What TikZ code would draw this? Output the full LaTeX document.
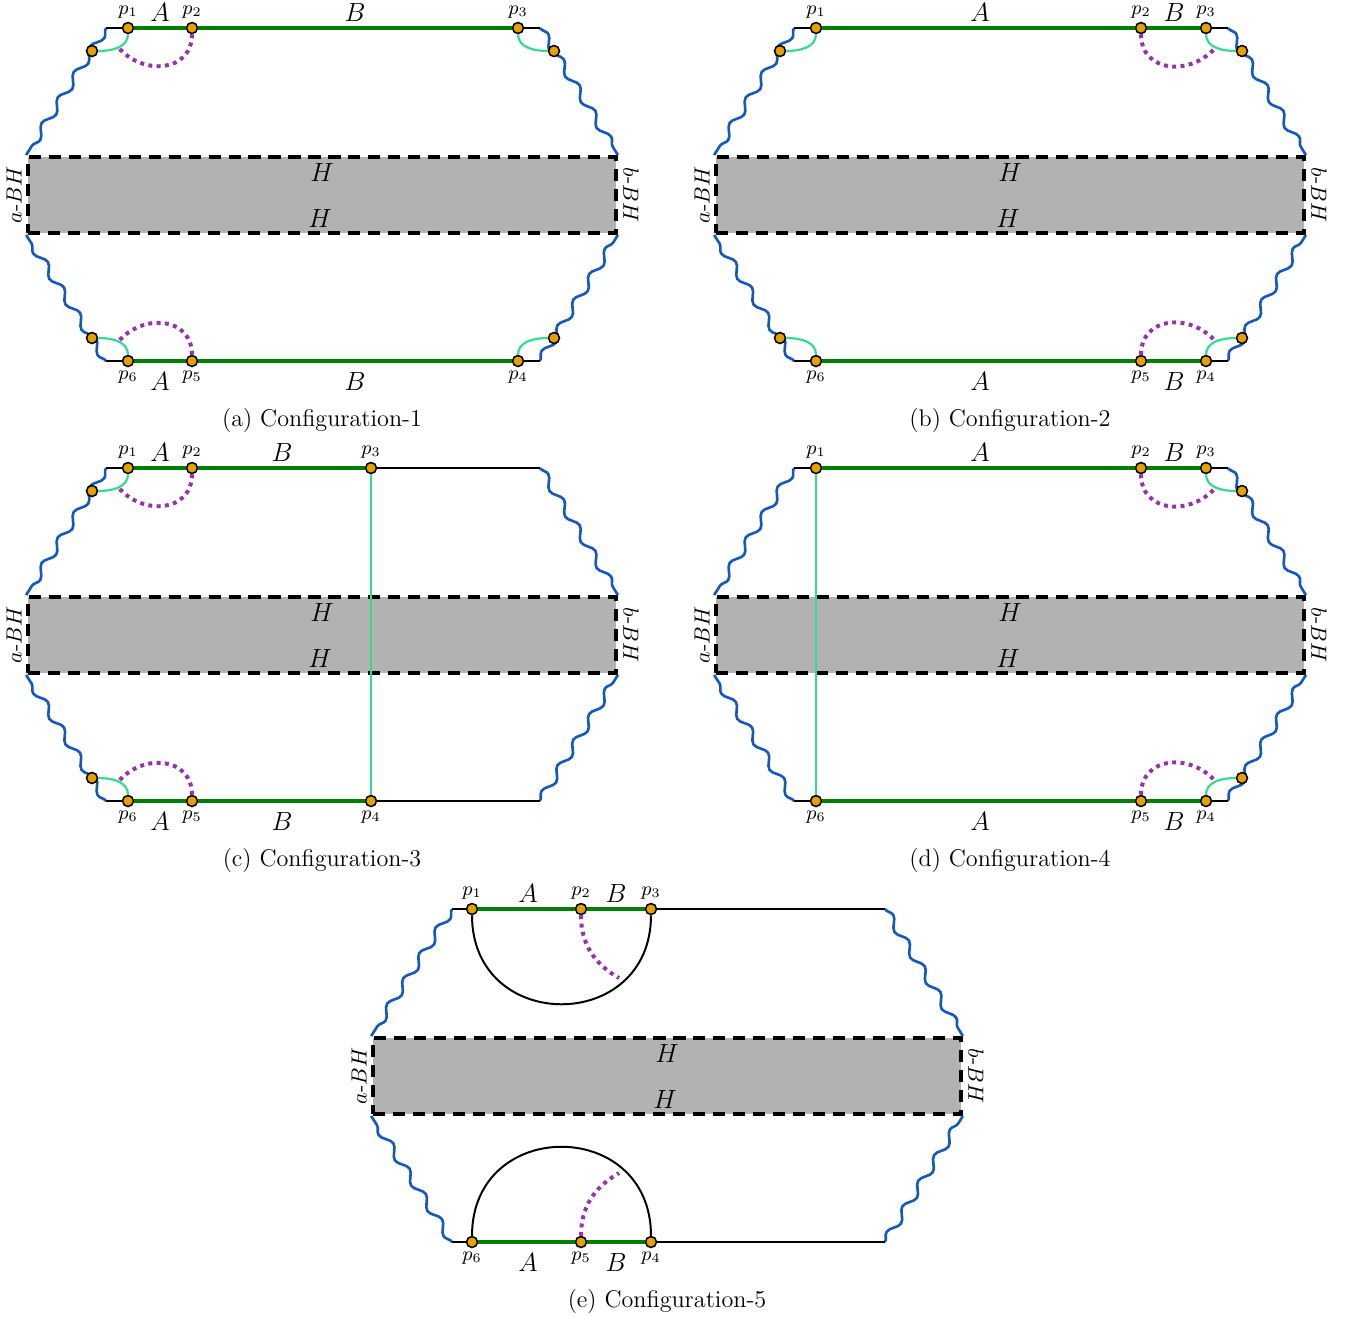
\documentclass[tikz,border=0pt]{standalone}
\usepackage{tikz}
\usetikzlibrary{positioning,decorations.pathmorphing}

\definecolor{dotorange}{RGB}{230,160,0}
\definecolor{wavyblue}{RGB}{20,90,190}
\definecolor{rtgreen}{RGB}{50,220,140}
\definecolor{islandpurple}{RGB}{150,50,170}
\definecolor{regiongreen}{RGB}{0,128,0}

\begin{document}
\begin{tikzpicture}[x=0.016cm,y=0.016cm,
  dot/.style={circle,draw,fill=dotorange,line width=0.7pt,inner sep=0pt,minimum size=5pt},
  plbl/.style={inner sep=1.5pt,font=\small},
  ablbl/.style={font=\large},
  wavy/.style={wavyblue,line width=1.2pt,decorate,decoration={snake,segment length=13.7pt,amplitude=1.8pt}},
  bh/.style={draw,fill=black!30,line width=1.8pt,dash pattern=on 5.5pt off 3.6pt,minimum width=9.408cm,minimum height=1.216cm,inner sep=0pt},
  region/.style={regiongreen,line width=2pt},
  bdry/.style={black,line width=0.9pt},
  ent/.style={rtgreen,line width=1pt},
  purp/.style={islandpurple,line width=1.8pt,dotted},
  capt/.style={font=\fontsize{11}{13}\selectfont}]

  \useasboundingbox (0,28) rectangle (1346,-1288);

  % (a) Configuration-1
  \begin{scope}
    \node[bh] (a-bh) at (322,-167) {};
    \node[rotate=90] at (14,-167) {$a$-$BH$};
    \node[rotate=-90] at (631,-167) {$b$-$BH$};
    \node[ablbl] at (322,-144) {$H$};
    \node[ablbl] at (320,-190) {$H$};
    \coordinate (a-w1) at (106,0);
    \coordinate (a-w2) at (540,0);
    \coordinate (a-w3) at (106,-333);
    \coordinate (a-w4) at (540,-333);
    \draw[wavy] (a-w1) -- (a-bh.north west);
    \draw[wavy] (a-w2) -- (a-bh.north east);
    \draw[wavy] (a-w3) -- (a-bh.south west);
    \draw[wavy] (a-w4) -- (a-bh.south east);
    \node[dot,label={[plbl]above:$p_1$}] (a-p1) at (128,0) {};
    \node[dot,label={[plbl]above:$p_2$}] (a-p2) at (192,0) {};
    \node[dot,label={[plbl]above:$p_3$}] (a-p3) at (518,0) {};
    \node[dot,label={[plbl]below:$p_6$}] (a-p6) at (128,-333) {};
    \node[dot,label={[plbl]below:$p_5$}] (a-p5) at (192,-333) {};
    \node[dot,label={[plbl]below:$p_4$}] (a-p4) at (518,-333) {};
    \node[dot] (a-q1) at (92,-23) {};
    \node[dot] (a-q2) at (554,-23) {};
    \node[dot] (a-q3) at (92,-310) {};
    \node[dot] (a-q4) at (554,-310) {};
    \coordinate (a-m1) at (118,-19);
    \coordinate (a-m2) at (118,-314);
    \draw[bdry] (a-w1) -- (a-p1);
    \draw[bdry] (a-p3) -- (a-w2);
    \draw[bdry] (a-w3) -- (a-p6);
    \draw[bdry] (a-p4) -- (a-w4);
    \draw[region] (a-p1) -- (a-p2);
    \draw[region] (a-p2) -- (a-p3);
    \draw[region] (a-p6) -- (a-p5);
    \draw[region] (a-p5) -- (a-p4);
    \draw[ent] (a-p1) to[out=-90,in=0] (a-q1);
    \draw[ent] (a-p3) to[out=-90,in=180] (a-q2);
    \draw[ent] (a-p6) to[out=90,in=0] (a-q3);
    \draw[ent] (a-p4) to[out=90,in=180] (a-q4);
    \draw[purp] (a-p2) to[out=-90,in=-50,looseness=1.3] (a-m1);
    \draw[purp] (a-p5) to[out=90,in=50,looseness=1.3] (a-m2);
    \node[ablbl] at (160,16) {$A$};
    \node[ablbl] at (355,16) {$B$};
    \node[ablbl] at (160,-353) {$A$};
    \node[ablbl] at (355,-353) {$B$};
    \node[capt] at (322,-392) {(a) Configuration-1};
  \end{scope}

  % (b) Configuration-2
  \begin{scope}[shift={(688,0)}]
    \node[bh] (b-bh) at (322,-167) {};
    \node[rotate=90] at (14,-167) {$a$-$BH$};
    \node[rotate=-90] at (631,-167) {$b$-$BH$};
    \node[ablbl] at (322,-144) {$H$};
    \node[ablbl] at (320,-190) {$H$};
    \coordinate (b-w1) at (106,0);
    \coordinate (b-w2) at (540,0);
    \coordinate (b-w3) at (106,-333);
    \coordinate (b-w4) at (540,-333);
    \draw[wavy] (b-w1) -- (b-bh.north west);
    \draw[wavy] (b-w2) -- (b-bh.north east);
    \draw[wavy] (b-w3) -- (b-bh.south west);
    \draw[wavy] (b-w4) -- (b-bh.south east);
    \node[dot,label={[plbl]above:$p_1$}] (b-p1) at (128,0) {};
    \node[dot,label={[plbl]above:$p_2$}] (b-p2) at (453,0) {};
    \node[dot,label={[plbl]above:$p_3$}] (b-p3) at (518,0) {};
    \node[dot,label={[plbl]below:$p_6$}] (b-p6) at (128,-333) {};
    \node[dot,label={[plbl]below:$p_5$}] (b-p5) at (453,-333) {};
    \node[dot,label={[plbl]below:$p_4$}] (b-p4) at (518,-333) {};
    \node[dot] (b-q1) at (92,-23) {};
    \node[dot] (b-q2) at (554,-23) {};
    \node[dot] (b-q3) at (92,-310) {};
    \node[dot] (b-q4) at (554,-310) {};
    \coordinate (b-m1) at (528,-19);
    \coordinate (b-m2) at (528,-314);
    \draw[bdry] (b-w1) -- (b-p1);
    \draw[bdry] (b-p3) -- (b-w2);
    \draw[bdry] (b-w3) -- (b-p6);
    \draw[bdry] (b-p4) -- (b-w4);
    \draw[region] (b-p1) -- (b-p2);
    \draw[region] (b-p2) -- (b-p3);
    \draw[region] (b-p6) -- (b-p5);
    \draw[region] (b-p5) -- (b-p4);
    \draw[ent] (b-p1) to[out=-90,in=0] (b-q1);
    \draw[ent] (b-p3) to[out=-90,in=180] (b-q2);
    \draw[ent] (b-p6) to[out=90,in=0] (b-q3);
    \draw[ent] (b-p4) to[out=90,in=180] (b-q4);
    \draw[purp] (b-p2) to[out=-90,in=-130,looseness=1.3] (b-m1);
    \draw[purp] (b-p5) to[out=90,in=130,looseness=1.3] (b-m2);
    \node[ablbl] at (292,16) {$A$};
    \node[ablbl] at (486,16) {$B$};
    \node[ablbl] at (292,-353) {$A$};
    \node[ablbl] at (486,-353) {$B$};
    \node[capt] at (322,-392) {(b) Configuration-2};
  \end{scope}

  % (c) Configuration-3
  \begin{scope}[shift={(0,-440)}]
    \node[bh] (c-bh) at (322,-167) {};
    \node[rotate=90] at (14,-167) {$a$-$BH$};
    \node[rotate=-90] at (631,-167) {$b$-$BH$};
    \node[ablbl] at (322,-144) {$H$};
    \node[ablbl] at (320,-190) {$H$};
    \coordinate (c-w1) at (106,0);
    \coordinate (c-w2) at (540,0);
    \coordinate (c-w3) at (106,-333);
    \coordinate (c-w4) at (540,-333);
    \draw[wavy] (c-w1) -- (c-bh.north west);
    \draw[wavy] (c-w2) -- (c-bh.north east);
    \draw[wavy] (c-w3) -- (c-bh.south west);
    \draw[wavy] (c-w4) -- (c-bh.south east);
    \node[dot,label={[plbl]above:$p_1$}] (c-p1) at (128,0) {};
    \node[dot,label={[plbl]above:$p_2$}] (c-p2) at (192,0) {};
    \node[dot,label={[plbl]above:$p_3$}] (c-p3) at (371,0) {};
    \node[dot,label={[plbl]below:$p_6$}] (c-p6) at (128,-333) {};
    \node[dot,label={[plbl]below:$p_5$}] (c-p5) at (192,-333) {};
    \node[dot,label={[plbl]below:$p_4$}] (c-p4) at (371,-333) {};
    \node[dot] (c-q1) at (92,-23) {};
    \node[dot] (c-q3) at (92,-310) {};
    \coordinate (c-m1) at (118,-19);
    \coordinate (c-m2) at (118,-314);
    \draw[bdry] (c-w1) -- (c-p1);
    \draw[bdry] (c-p3) -- (c-w2);
    \draw[bdry] (c-w3) -- (c-p6);
    \draw[bdry] (c-p4) -- (c-w4);
    \draw[region] (c-p1) -- (c-p2);
    \draw[region] (c-p2) -- (c-p3);
    \draw[region] (c-p6) -- (c-p5);
    \draw[region] (c-p5) -- (c-p4);
    \draw[ent] (c-p1) to[out=-90,in=0] (c-q1);
    \draw[ent] (c-p6) to[out=90,in=0] (c-q3);
    \draw[ent] (c-p3) -- (c-p4);
    \draw[purp] (c-p2) to[out=-90,in=-50,looseness=1.3] (c-m1);
    \draw[purp] (c-p5) to[out=90,in=50,looseness=1.3] (c-m2);
    \node[ablbl] at (160,16) {$A$};
    \node[ablbl] at (282,16) {$B$};
    \node[ablbl] at (160,-353) {$A$};
    \node[ablbl] at (282,-353) {$B$};
    \node[capt] at (322,-392) {(c) Configuration-3};
  \end{scope}

  % (d) Configuration-4
  \begin{scope}[shift={(688,-440)}]
    \node[bh] (d-bh) at (322,-167) {};
    \node[rotate=90] at (14,-167) {$a$-$BH$};
    \node[rotate=-90] at (631,-167) {$b$-$BH$};
    \node[ablbl] at (322,-144) {$H$};
    \node[ablbl] at (320,-190) {$H$};
    \coordinate (d-w1) at (106,0);
    \coordinate (d-w2) at (540,0);
    \coordinate (d-w3) at (106,-333);
    \coordinate (d-w4) at (540,-333);
    \draw[wavy] (d-w1) -- (d-bh.north west);
    \draw[wavy] (d-w2) -- (d-bh.north east);
    \draw[wavy] (d-w3) -- (d-bh.south west);
    \draw[wavy] (d-w4) -- (d-bh.south east);
    \node[dot,label={[plbl]above:$p_1$}] (d-p1) at (128,0) {};
    \node[dot,label={[plbl]above:$p_2$}] (d-p2) at (453,0) {};
    \node[dot,label={[plbl]above:$p_3$}] (d-p3) at (518,0) {};
    \node[dot,label={[plbl]below:$p_6$}] (d-p6) at (128,-333) {};
    \node[dot,label={[plbl]below:$p_5$}] (d-p5) at (453,-333) {};
    \node[dot,label={[plbl]below:$p_4$}] (d-p4) at (518,-333) {};
    \node[dot] (d-q2) at (554,-23) {};
    \node[dot] (d-q4) at (554,-310) {};
    \coordinate (d-m1) at (528,-19);
    \coordinate (d-m2) at (528,-314);
    \draw[bdry] (d-w1) -- (d-p1);
    \draw[bdry] (d-p3) -- (d-w2);
    \draw[bdry] (d-w3) -- (d-p6);
    \draw[bdry] (d-p4) -- (d-w4);
    \draw[region] (d-p1) -- (d-p2);
    \draw[region] (d-p2) -- (d-p3);
    \draw[region] (d-p6) -- (d-p5);
    \draw[region] (d-p5) -- (d-p4);
    \draw[ent] (d-p3) to[out=-90,in=180] (d-q2);
    \draw[ent] (d-p4) to[out=90,in=180] (d-q4);
    \draw[ent] (d-p1) -- (d-p6);
    \draw[purp] (d-p2) to[out=-90,in=-130,looseness=1.3] (d-m1);
    \draw[purp] (d-p5) to[out=90,in=130,looseness=1.3] (d-m2);
    \node[ablbl] at (292,16) {$A$};
    \node[ablbl] at (486,16) {$B$};
    \node[ablbl] at (292,-353) {$A$};
    \node[ablbl] at (486,-353) {$B$};
    \node[capt] at (322,-392) {(d) Configuration-4};
  \end{scope}

  % (e) Configuration-5
  \begin{scope}[shift={(345,-881)}]
    \node[bh] (e-bh) at (322,-167) {};
    \node[rotate=90] at (14,-167) {$a$-$BH$};
    \node[rotate=-90] at (631,-167) {$b$-$BH$};
    \node[ablbl] at (322,-144) {$H$};
    \node[ablbl] at (320,-190) {$H$};
    \coordinate (e-w1) at (107,0);
    \coordinate (e-w2) at (540,0);
    \coordinate (e-w3) at (107,-333);
    \coordinate (e-w4) at (540,-333);
    \draw[wavy] (e-w1) -- (e-bh.north west);
    \draw[wavy] (e-w2) -- (e-bh.north east);
    \draw[wavy] (e-w3) -- (e-bh.south west);
    \draw[wavy] (e-w4) -- (e-bh.south east);
    \node[dot,label={[plbl]above:$p_1$}] (e-p1) at (127,0) {};
    \node[dot,label={[plbl]above:$p_2$}] (e-p2) at (236,0) {};
    \node[dot,label={[plbl]above:$p_3$}] (e-p3) at (306,0) {};
    \node[dot,label={[plbl]below:$p_6$}] (e-p6) at (127,-333) {};
    \node[dot,label={[plbl]below:$p_5$}] (e-p5) at (236,-333) {};
    \node[dot,label={[plbl]below:$p_4$}] (e-p4) at (306,-333) {};
    \coordinate (e-m1) at (274,-69);
    \coordinate (e-m2) at (274,-264);
    \draw[bdry] (e-w1) -- (e-p1);
    \draw[bdry] (e-p3) -- (e-w2);
    \draw[bdry] (e-w3) -- (e-p6);
    \draw[bdry] (e-p4) -- (e-w4);
    \draw[region] (e-p1) -- (e-p2);
    \draw[region] (e-p2) -- (e-p3);
    \draw[region] (e-p6) -- (e-p5);
    \draw[region] (e-p5) -- (e-p4);
    \draw[bdry] (e-p1) to[out=-90,in=-90,looseness=1.7] (e-p3);
    \draw[bdry] (e-p6) to[out=90,in=90,looseness=1.7] (e-p4);
    \draw[purp] (e-p2) to[out=-90,in=150] (e-m1);
    \draw[purp] (e-p5) to[out=90,in=-150] (e-m2);
    \node[ablbl] at (183,16) {$A$};
    \node[ablbl] at (271,16) {$B$};
    \node[ablbl] at (183,-353) {$A$};
    \node[ablbl] at (271,-353) {$B$};
    \node[capt] at (322,-392) {(e) Configuration-5};
  \end{scope}

\end{tikzpicture}
\end{document}
